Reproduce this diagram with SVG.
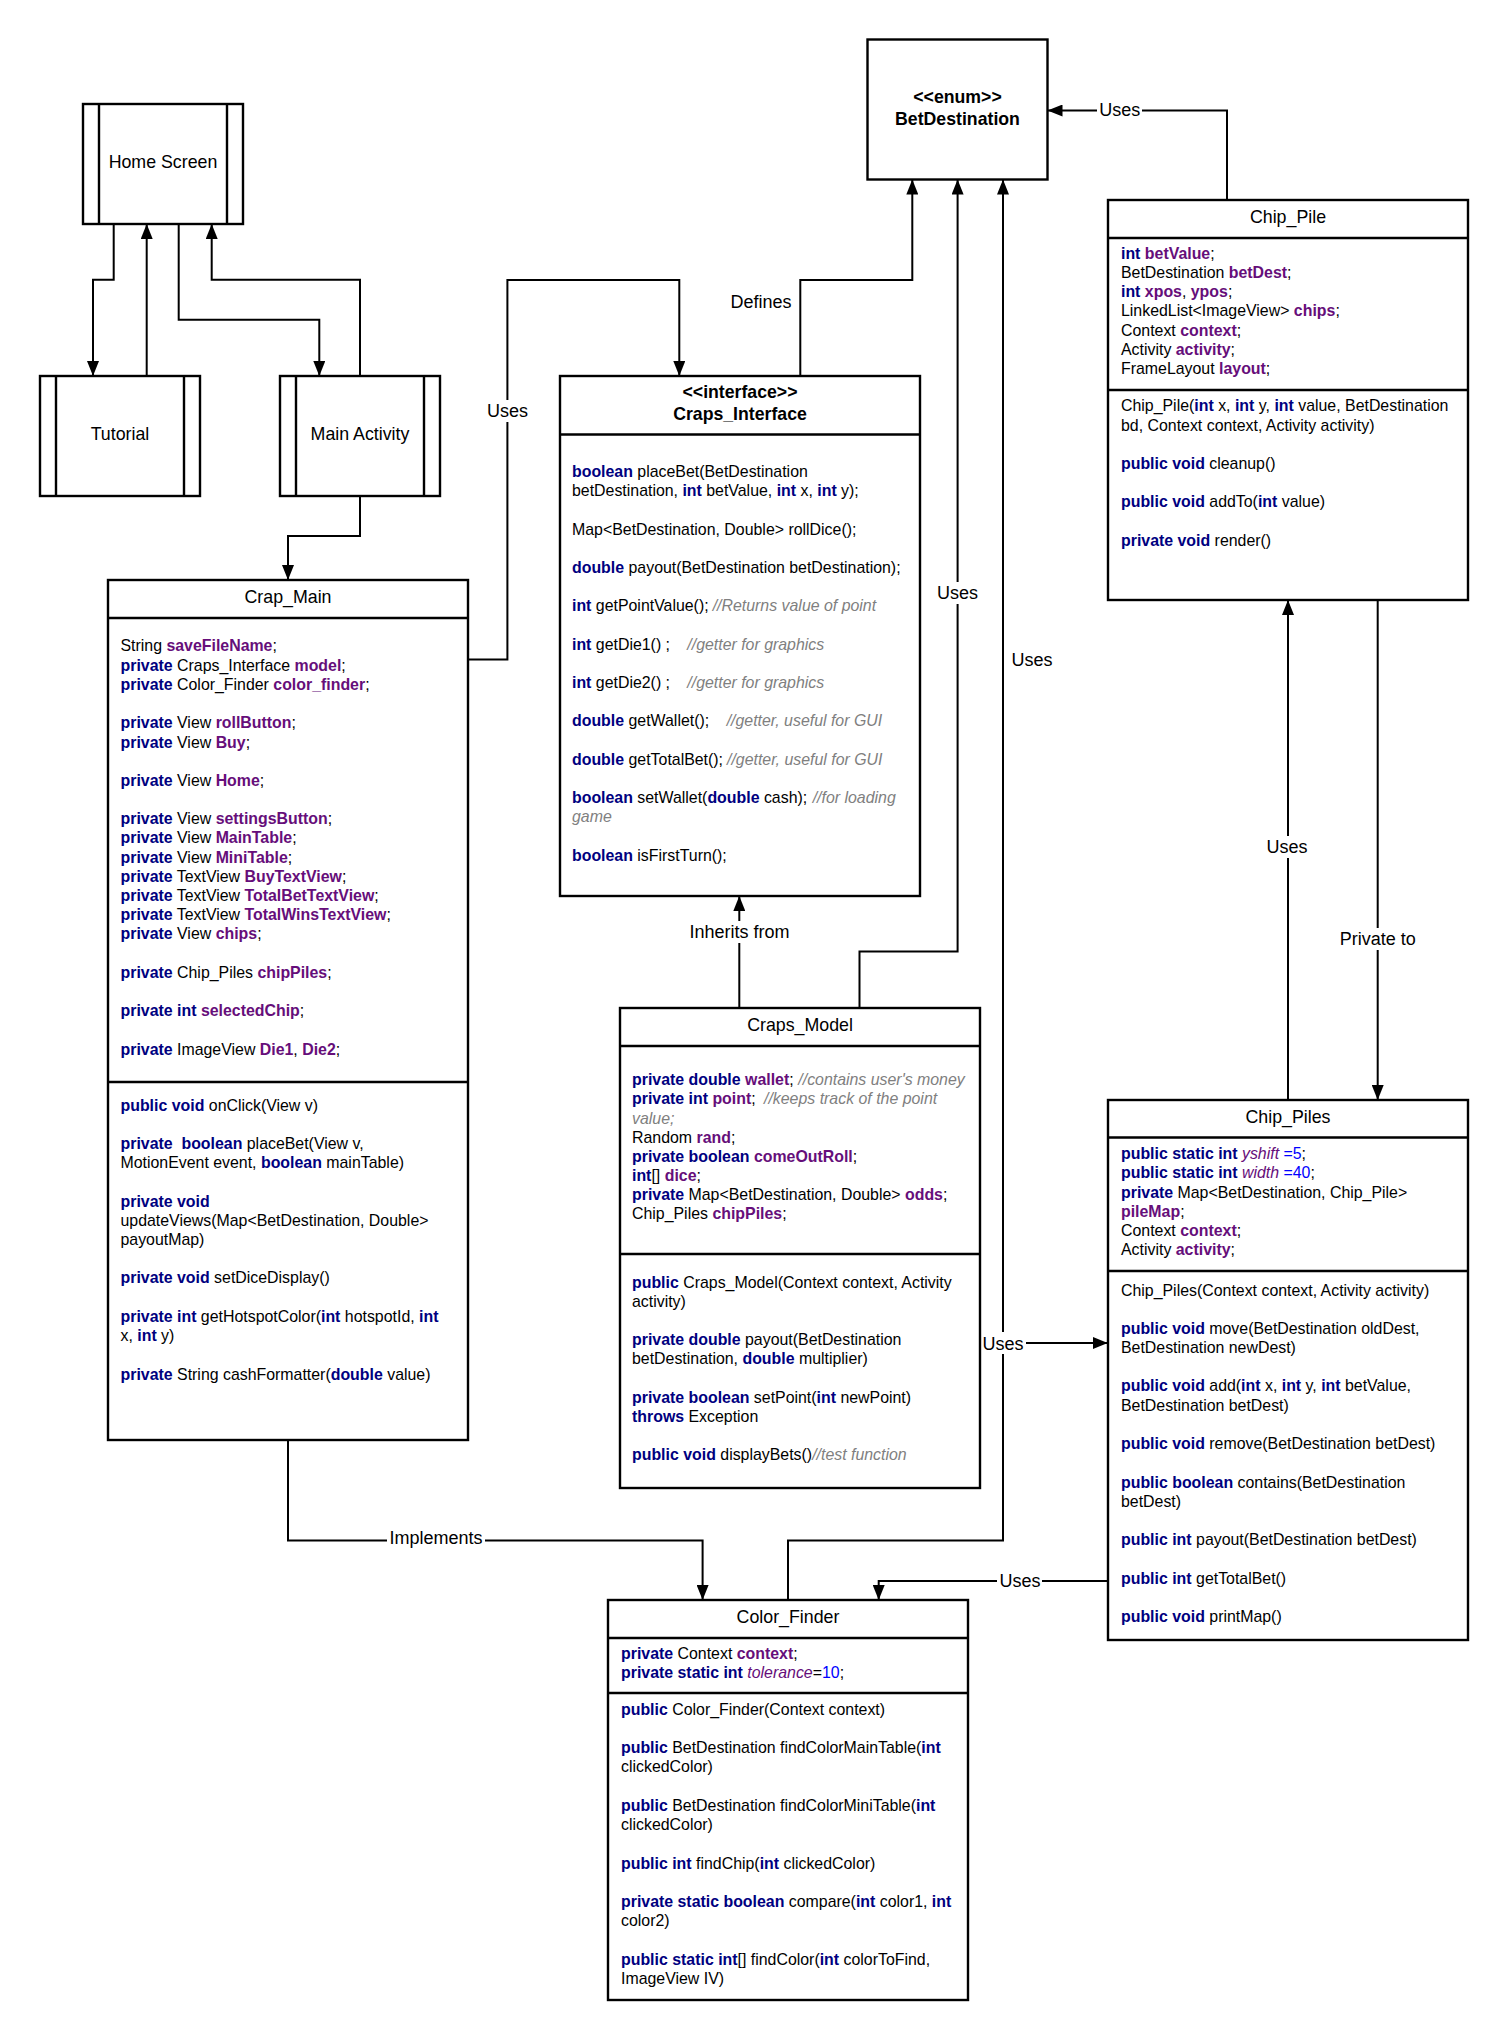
<svg xmlns="http://www.w3.org/2000/svg" width="1508" height="2040" viewBox="0 0 1508 2040">
  <style>
    text { font-family: "Liberation Sans", Arial, Helvetica, sans-serif; fill: #000; }
    .t { font-size: 15.9px; }
    .title { font-size: 17.8px; text-anchor: middle; }
    .btitle { font-size: 17.7px; font-weight: bold; text-anchor: middle; }
    .lbl { font-size: 18px; text-anchor: middle; }
    .k { fill: #000080; font-weight: bold; }
    .f { fill: #660E7A; font-weight: bold; }
    .fs { fill: #660E7A; font-style: italic; }
    .c { fill: #808080; font-style: italic; }
    .n { fill: #0000FF; }
    .box { fill: #fff; stroke: #000; stroke-width: 2.4; }
    .sep { stroke: #000; stroke-width: 2.4; fill: none; }
    .edge { fill: none; stroke: #000; stroke-width: 2; }
    .arr { marker-end: url(#head); }
    .bg { fill: #fff; }
  </style>
  <defs>
    <marker id="head" markerUnits="userSpaceOnUse" markerWidth="16" markerHeight="12" refX="15" refY="6" orient="auto">
      <path d="M0,0 L15,6 L0,12 Z" fill="#000"/>
    </marker>
  </defs>

  <rect width="1508" height="2040" fill="#fff"/>

  <!-- connectors -->
  <g id="connectors">
    <path class="edge arr" d="M113.7,224 V279.7 H93 V376"/>
    <path class="edge arr" d="M146.7,376 V224"/>
    <path class="edge arr" d="M178.7,224 V319.7 H319.3 V376"/>
    <path class="edge arr" d="M360,376 V279.7 H211.7 V224"/>
    <path class="edge arr" d="M360,496 V536 H288 V580"/>
    <path class="edge arr" d="M468,659.6 H507.4 V280 H679.3 V376"/>
    <path class="edge arr" d="M800.3,376 V280 H912.3 V179.5"/>
    <path class="edge arr" d="M859.5,1008 V951.5 H957.6 V179.5"/>
    <path class="edge arr" d="M788,1600 V1540.4 H1003 V179.5"/>
    <path class="edge arr" d="M739.3,1008 V896"/>
    <path class="edge arr" d="M1227,200 V110.5 H1047.5"/>
    <path class="edge arr" d="M1288,1100 V600"/>
    <path class="edge arr" d="M1377.7,600 V1100"/>
    <path class="edge arr" d="M980,1343 H1107.7"/>
    <path class="edge arr" d="M1107.7,1581 H878.7 V1600"/>
    <path class="edge arr" d="M288,1440 V1540.4 H702.6 V1600"/>

    <!-- edge labels -->
    <rect class="bg" x="485" y="400" width="45" height="22"/>
    <text class="lbl" x="507.4" y="417">Uses</text>
    <text class="lbl" x="761" y="308">Defines</text>
    <rect class="bg" x="935" y="582" width="45" height="22"/>
    <text class="lbl" x="957.6" y="599">Uses</text>
    <text class="lbl" x="1032" y="665.5">Uses</text>
    <rect class="bg" x="686" y="921" width="107" height="22"/>
    <text class="lbl" x="739.5" y="938">Inherits from</text>
    <rect class="bg" x="1097" y="99" width="45" height="22"/>
    <text class="lbl" x="1119.7" y="116">Uses</text>
    <rect class="bg" x="1265" y="836" width="45" height="22"/>
    <text class="lbl" x="1287" y="853">Uses</text>
    <rect class="bg" x="1337" y="928" width="82" height="22"/>
    <text class="lbl" x="1377.8" y="945">Private to</text>
    <rect class="bg" x="981" y="1332" width="45" height="22"/>
    <text class="lbl" x="1003" y="1349.5">Uses</text>
    <rect class="bg" x="997" y="1570" width="45" height="22"/>
    <text class="lbl" x="1020" y="1587">Uses</text>
    <rect class="bg" x="387" y="1527" width="98" height="22"/>
    <text class="lbl" x="436" y="1543.5">Implements</text>
  </g>

  <!-- screens -->
  <g id="home-screen">
    <rect class="box" x="83" y="104" width="160" height="120"/>
    <path class="sep" d="M99,104 V224 M227,104 V224"/>
    <text class="title" x="163" y="168">Home Screen</text>
  </g>
  <g id="tutorial">
    <rect class="box" x="40" y="376" width="160" height="120"/>
    <path class="sep" d="M56,376 V496 M184,376 V496"/>
    <text class="title" x="120" y="439.5">Tutorial</text>
  </g>
  <g id="main-activity">
    <rect class="box" x="280" y="376" width="160" height="120"/>
    <path class="sep" d="M296,376 V496 M424,376 V496"/>
    <text class="title" x="360" y="439.5">Main Activity</text>
  </g>

  <!-- enum -->
  <g id="bet-destination">
    <rect class="box" x="867.5" y="39.5" width="180" height="140"/>
    <text class="btitle" x="957.5" y="102.5">&lt;&lt;enum&gt;&gt;</text>
    <text class="btitle" x="957.5" y="125">BetDestination</text>
  </g>

  <!-- Crap_Main -->
  <g id="crap-main">
    <rect class="box" x="108" y="580" width="360" height="860"/>
    <path class="sep" d="M108,618 H468 M108,1082 H468"/>
    <text class="title" x="288" y="602.5">Crap_Main</text>
    <text class="t" x="120.5" y="651">String <tspan class="f">saveFileName</tspan>;</text>
    <text class="t" x="120.5" y="670.5"><tspan class="k">private</tspan> Craps_Interface <tspan class="f">model</tspan>;</text>
    <text class="t" x="120.5" y="689.5"><tspan class="k">private</tspan> Color_Finder <tspan class="f">color_finder</tspan>;</text>
    <text class="t" x="120.5" y="728"><tspan class="k">private</tspan> View <tspan class="f">rollButton</tspan>;</text>
    <text class="t" x="120.5" y="747.5"><tspan class="k">private</tspan> View <tspan class="f">Buy</tspan>;</text>
    <text class="t" x="120.5" y="785.5"><tspan class="k">private</tspan> View <tspan class="f">Home</tspan>;</text>
    <text class="t" x="120.5" y="824"><tspan class="k">private</tspan> View <tspan class="f">settingsButton</tspan>;</text>
    <text class="t" x="120.5" y="843"><tspan class="k">private</tspan> View <tspan class="f">MainTable</tspan>;</text>
    <text class="t" x="120.5" y="862.5"><tspan class="k">private</tspan> View <tspan class="f">MiniTable</tspan>;</text>
    <text class="t" x="120.5" y="881.5"><tspan class="k">private</tspan> TextView <tspan class="f">BuyTextView</tspan>;</text>
    <text class="t" x="120.5" y="900.5"><tspan class="k">private</tspan> TextView <tspan class="f">TotalBetTextView</tspan>;</text>
    <text class="t" x="120.5" y="919.5"><tspan class="k">private</tspan> TextView <tspan class="f">TotalWinsTextView</tspan>;</text>
    <text class="t" x="120.5" y="939"><tspan class="k">private</tspan> View <tspan class="f">chips</tspan>;</text>
    <text class="t" x="120.5" y="977.5"><tspan class="k">private</tspan> Chip_Piles <tspan class="f">chipPiles</tspan>;</text>
    <text class="t" x="120.5" y="1016"><tspan class="k">private int</tspan> <tspan class="f">selectedChip</tspan>;</text>
    <text class="t" x="120.5" y="1054.5"><tspan class="k">private</tspan> ImageView <tspan class="f">Die1</tspan>, <tspan class="f">Die2</tspan>;</text>

    <text class="t" x="120.5" y="1110.5"><tspan class="k">public void</tspan> onClick(View v)</text>
    <text class="t" x="120.5" y="1149" xml:space="preserve"><tspan class="k">private  boolean</tspan> placeBet(View v,</text>
    <text class="t" x="120.5" y="1168">MotionEvent event, <tspan class="k">boolean</tspan> mainTable)</text>
    <text class="t" x="120.5" y="1206.7"><tspan class="k">private void</tspan></text>
    <text class="t" x="120.5" y="1225.7">updateViews(Map&lt;BetDestination, Double&gt;</text>
    <text class="t" x="120.5" y="1245">payoutMap)</text>
    <text class="t" x="120.5" y="1283.4"><tspan class="k">private void</tspan> setDiceDisplay()</text>
    <text class="t" x="120.5" y="1322"><tspan class="k">private int</tspan> getHotspotColor(<tspan class="k">int</tspan> hotspotId, <tspan class="k">int</tspan></text>
    <text class="t" x="120.5" y="1341">x, <tspan class="k">int</tspan> y)</text>
    <text class="t" x="120.5" y="1379.7"><tspan class="k">private</tspan> String cashFormatter(<tspan class="k">double</tspan> value)</text>
  </g>

  <!-- Craps_Interface -->
  <g id="craps-interface">
    <rect class="box" x="560" y="376" width="360" height="520"/>
    <path class="sep" d="M560,434.5 H920"/>
    <text class="btitle" x="740" y="398">&lt;&lt;interface&gt;&gt;</text>
    <text class="btitle" x="740" y="420">Craps_Interface</text>
    <text class="t" x="572" y="476.6"><tspan class="k">boolean</tspan> placeBet(BetDestination</text>
    <text class="t" x="572" y="496.3">betDestination, <tspan class="k">int</tspan> betValue, <tspan class="k">int</tspan> x, <tspan class="k">int</tspan> y);</text>
    <text class="t" x="572" y="534.5">Map&lt;BetDestination, Double&gt; rollDice();</text>
    <text class="t" x="572" y="572.7"><tspan class="k">double</tspan> payout(BetDestination betDestination);</text>
    <text class="t" x="572" y="611"><tspan class="k">int</tspan> getPointValue(); <tspan class="c" x="712.7">//Returns value of point</tspan></text>
    <text class="t" x="572" y="649.5"><tspan class="k">int</tspan> getDie1() ; <tspan class="c" x="687.3">//getter for graphics</tspan></text>
    <text class="t" x="572" y="688.1"><tspan class="k">int</tspan> getDie2() ; <tspan class="c" x="687.3">//getter for graphics</tspan></text>
    <text class="t" x="572" y="726.3"><tspan class="k">double</tspan> getWallet(); <tspan class="c" x="726.7">//getter, useful for GUI</tspan></text>
    <text class="t" x="572" y="764.6"><tspan class="k">double</tspan> getTotalBet(); <tspan class="c" x="727">//getter, useful for GUI</tspan></text>
    <text class="t" x="572" y="803.1"><tspan class="k">boolean</tspan> setWallet(<tspan class="k">double</tspan> cash); <tspan class="c" x="812.7">//for loading</tspan></text>
    <text class="t c" x="572" y="822.4">game</text>
    <text class="t" x="572" y="860.7"><tspan class="k">boolean</tspan> isFirstTurn();</text>
  </g>

  <!-- Chip_Pile -->
  <g id="chip-pile">
    <rect class="box" x="1108" y="200" width="360" height="400"/>
    <path class="sep" d="M1108,238 H1468 M1108,390 H1468"/>
    <text class="title" x="1288" y="222.5">Chip_Pile</text>
    <text class="t" x="1121" y="258.7"><tspan class="k">int</tspan> <tspan class="f">betValue</tspan>;</text>
    <text class="t" x="1121" y="278.1">BetDestination <tspan class="f">betDest</tspan>;</text>
    <text class="t" x="1121" y="297.4"><tspan class="k">int</tspan> <tspan class="f">xpos</tspan>, <tspan class="f">ypos</tspan>;</text>
    <text class="t" x="1121" y="316.4">LinkedList&lt;ImageView&gt; <tspan class="f">chips</tspan>;</text>
    <text class="t" x="1121" y="335.7">Context <tspan class="f">context</tspan>;</text>
    <text class="t" x="1121" y="355.1">Activity <tspan class="f">activity</tspan>;</text>
    <text class="t" x="1121" y="374.4">FrameLayout <tspan class="f">layout</tspan>;</text>
    <text class="t" x="1121" y="411.4">Chip_Pile(<tspan class="k">int</tspan> x, <tspan class="k">int</tspan> y, <tspan class="k">int</tspan> value, BetDestination</text>
    <text class="t" x="1121" y="430.7">bd, Context context, Activity activity)</text>
    <text class="t" x="1121" y="469.1"><tspan class="k">public void</tspan> cleanup()</text>
    <text class="t" x="1121" y="507.4"><tspan class="k">public void</tspan> addTo(<tspan class="k">int</tspan> value)</text>
    <text class="t" x="1121" y="545.7"><tspan class="k">private void</tspan> render()</text>
  </g>

  <!-- Chip_Piles -->
  <g id="chip-piles">
    <rect class="box" x="1108" y="1100" width="360" height="540"/>
    <path class="sep" d="M1108,1137.5 H1468 M1108,1271 H1468"/>
    <text class="title" x="1288" y="1122.5">Chip_Piles</text>
    <text class="t" x="1121" y="1159"><tspan class="k">public static int</tspan> <tspan class="fs">yshift</tspan> <tspan class="n">=5</tspan>;</text>
    <text class="t" x="1121" y="1178.3"><tspan class="k">public static int</tspan> <tspan class="fs">width</tspan> <tspan class="n">=40</tspan>;</text>
    <text class="t" x="1121" y="1197.9"><tspan class="k">private</tspan> Map&lt;BetDestination, Chip_Pile&gt;</text>
    <text class="t" x="1121" y="1217.2"><tspan class="f">pileMap</tspan>;</text>
    <text class="t" x="1121" y="1236.1">Context <tspan class="f">context</tspan>;</text>
    <text class="t" x="1121" y="1255">Activity <tspan class="f">activity</tspan>;</text>
    <text class="t" x="1121" y="1295.8">Chip_Piles(Context context, Activity activity)</text>
    <text class="t" x="1121" y="1334"><tspan class="k">public void</tspan> move(BetDestination oldDest,</text>
    <text class="t" x="1121" y="1352.9">BetDestination newDest)</text>
    <text class="t" x="1121" y="1391.4"><tspan class="k">public void</tspan> add(<tspan class="k">int</tspan> x, <tspan class="k">int</tspan> y, <tspan class="k">int</tspan> betValue,</text>
    <text class="t" x="1121" y="1410.7">BetDestination betDest)</text>
    <text class="t" x="1121" y="1449"><tspan class="k">public void</tspan> remove(BetDestination betDest)</text>
    <text class="t" x="1121" y="1487.5"><tspan class="k">public boolean</tspan> contains(BetDestination</text>
    <text class="t" x="1121" y="1506.8">betDest)</text>
    <text class="t" x="1121" y="1545"><tspan class="k">public int</tspan> payout(BetDestination betDest)</text>
    <text class="t" x="1121" y="1583.5"><tspan class="k">public int</tspan> getTotalBet()</text>
    <text class="t" x="1121" y="1621.7"><tspan class="k">public void</tspan> printMap()</text>
  </g>

  <!-- Craps_Model -->
  <g id="craps-model">
    <rect class="box" x="620" y="1008" width="360" height="480"/>
    <path class="sep" d="M620,1046 H980 M620,1254 H980"/>
    <text class="title" x="800" y="1031">Craps_Model</text>
    <text class="t" x="632" y="1085.4"><tspan class="k">private double</tspan> <tspan class="f">wallet</tspan>; <tspan class="c" x="798.3">//contains user's money</tspan></text>
    <text class="t" x="632" y="1104.4"><tspan class="k">private int</tspan> <tspan class="f">point</tspan>; <tspan class="c" x="764">//keeps track of the point</tspan></text>
    <text class="t c" x="632" y="1123.7">value;</text>
    <text class="t" x="632" y="1142.7">Random <tspan class="f">rand</tspan>;</text>
    <text class="t" x="632" y="1161.7"><tspan class="k">private boolean</tspan> <tspan class="f">comeOutRoll</tspan>;</text>
    <text class="t" x="632" y="1181.1"><tspan class="k">int</tspan>[] <tspan class="f">dice</tspan>;</text>
    <text class="t" x="632" y="1200.4"><tspan class="k">private</tspan> Map&lt;BetDestination, Double&gt; <tspan class="f">odds</tspan>;</text>
    <text class="t" x="632" y="1219.4">Chip_Piles <tspan class="f">chipPiles</tspan>;</text>
    <text class="t" x="632" y="1287.7"><tspan class="k">public</tspan> Craps_Model(Context context, Activity</text>
    <text class="t" x="632" y="1306.7">activity)</text>
    <text class="t" x="632" y="1345.1"><tspan class="k">private double</tspan> payout(BetDestination</text>
    <text class="t" x="632" y="1364.4">betDestination, <tspan class="k">double</tspan> multiplier)</text>
    <text class="t" x="632" y="1402.7"><tspan class="k">private boolean</tspan> setPoint(<tspan class="k">int</tspan> newPoint)</text>
    <text class="t" x="632" y="1421.7"><tspan class="k">throws</tspan> Exception</text>
    <text class="t" x="632" y="1460.1"><tspan class="k">public void</tspan> displayBets()<tspan class="c">//test function</tspan></text>
  </g>

  <!-- Color_Finder -->
  <g id="color-finder">
    <rect class="box" x="608" y="1600" width="360" height="400"/>
    <path class="sep" d="M608,1638 H968 M608,1693 H968"/>
    <text class="title" x="788" y="1622.5">Color_Finder</text>
    <text class="t" x="621" y="1658.7"><tspan class="k">private</tspan> Context <tspan class="f">context</tspan>;</text>
    <text class="t" x="621" y="1678.1"><tspan class="k">private static int</tspan> <tspan class="fs">tolerance</tspan>=<tspan class="n">10</tspan>;</text>
    <text class="t" x="621" y="1715.4"><tspan class="k">public</tspan> Color_Finder(Context context)</text>
    <text class="t" x="621" y="1753.4"><tspan class="k">public</tspan> BetDestination findColorMainTable(<tspan class="k">int</tspan></text>
    <text class="t" x="621" y="1772.4">clickedColor)</text>
    <text class="t" x="621" y="1811.1"><tspan class="k">public</tspan> BetDestination findColorMiniTable(<tspan class="k">int</tspan></text>
    <text class="t" x="621" y="1830.1">clickedColor)</text>
    <text class="t" x="621" y="1868.7"><tspan class="k">public int</tspan> findChip(<tspan class="k">int</tspan> clickedColor)</text>
    <text class="t" x="621" y="1907.1"><tspan class="k">private static boolean</tspan> compare(<tspan class="k">int</tspan> color1, <tspan class="k">int</tspan></text>
    <text class="t" x="621" y="1926.4">color2)</text>
    <text class="t" x="621" y="1964.7"><tspan class="k">public static int</tspan>[] findColor(<tspan class="k">int</tspan> colorToFind,</text>
    <text class="t" x="621" y="1983.7">ImageView IV)</text>
  </g>
</svg>
